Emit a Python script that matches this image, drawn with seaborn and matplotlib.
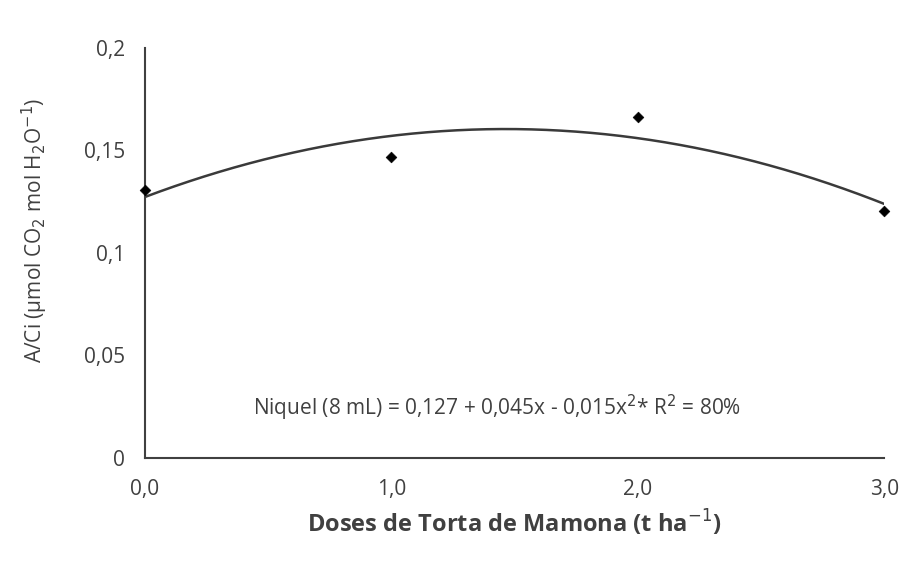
import numpy as np
import pandas as pd
import matplotlib
matplotlib.use("Agg")
import matplotlib.pyplot as plt
import seaborn as sns

# -------------------------------
# Data
# -------------------------------

doses = [0.0, 1.0, 2.0, 3.0]
a_ci = [0.1307, 0.1468, 0.1663, 0.1205]
x_ticks = [0.0, 1.0, 2.0, 3.0]
x_tick_labels = ["0,0", "1,0", "2,0", "3,0"]
y_ticks = [0, 0.05, 0.1, 0.15, 0.2]
y_tick_labels = ["0", "0,05", "0,1", "0,15", "0,2"]

df = pd.DataFrame({"dose": doses, "aci": a_ci})

# polynomial trend line (2nd order), like the spreadsheet one
coef = np.polyfit(df["dose"], df["aci"], 2)
xs = np.linspace(0, 3, 200)
trend = pd.DataFrame({"dose": xs, "aci": np.polyval(coef, xs)})

# -------------------------------
# Plot
# -------------------------------

sns.set_style("white")
plt.rcParams['font.family'] = ['Open Sans', 'DejaVu Sans']

fig = plt.figure(figsize=(9.22, 5.64), dpi=100)
ax = fig.add_axes([0.157, 0.188, 0.802, 0.727])

sns.lineplot(data=trend, x="dose", y="aci", ax=ax, color="#3a3a3a", linewidth=1.8)
sns.scatterplot(data=df, x="dose", y="aci", ax=ax, marker="D", s=30,
                color="black", edgecolor="black", zorder=3, clip_on=False)

ax.set_xlim(0, 3)
ax.set_ylim(0, 0.2)
ax.set_xticks(x_ticks)
ax.set_xticklabels(x_tick_labels)
ax.set_yticks(y_ticks)
ax.set_yticklabels(y_tick_labels)

for s in ["top", "right"]:
    ax.spines[s].set_visible(False)
for s in ["left", "bottom"]:
    ax.spines[s].set_color("#404040")
    ax.spines[s].set_linewidth(1.5)

ax.tick_params(axis="both", direction="out", length=6, width=1.3,
               colors="#404040", labelsize=15, labelcolor="#404040", pad=8)
ax.tick_params(axis="x", length=5, pad=10)

ax.set_xlabel("Doses de Torta de Mamona (t ha$^{-1}$)", fontsize=17,
              fontweight="bold", color="#404040", labelpad=6)
ax.set_ylabel("A/Ci (µmol CO$_2$ mol H$_2$O$^{-1}$)", fontsize=15,
              color="#404040")
ax.yaxis.set_label_coords(-0.128, 0.556)

ax.text(1.43, 0.0245, "Niquel (8 mL) = 0,127 + 0,045x - 0,015x$^{2}$* R$^{2}$ = 80%",
        ha="center", va="center", fontsize=15, color="#404040")

fig.savefig("out.png", dpi=100)
